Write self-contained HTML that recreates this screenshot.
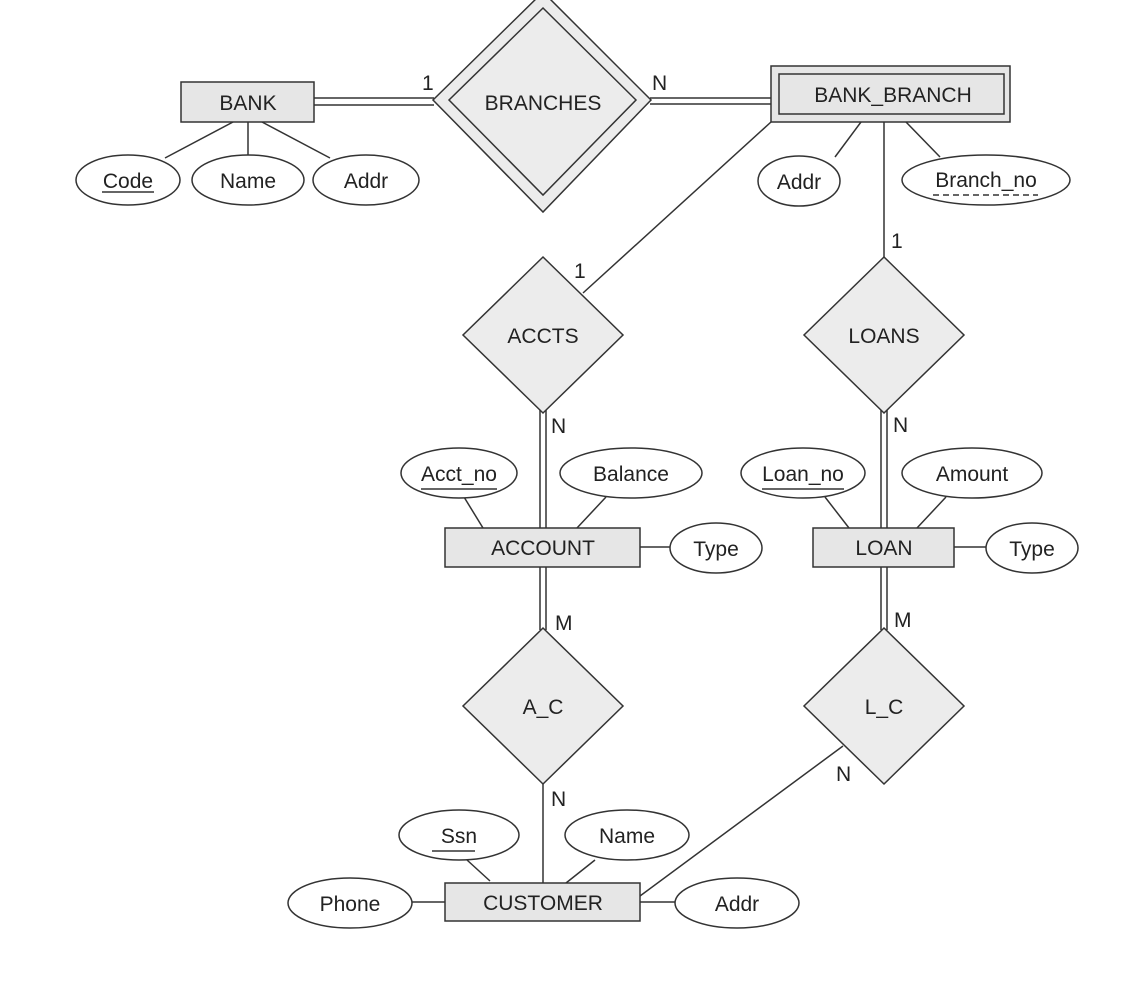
<!DOCTYPE html>
<html><head><meta charset="utf-8"><style>
html,body{margin:0;padding:0;background:#fff;}
svg{display:block;}
text{font-family:"Liberation Sans",Arial,sans-serif;font-size:21px;fill:#222;}
</style></head><body>
<svg width="1124" height="984" viewBox="0 0 1124 984" xmlns="http://www.w3.org/2000/svg">
<g stroke="#333" stroke-width="1.5" fill="none">
<!-- BANK attr lines -->
<line x1="233" y1="122" x2="165" y2="158"/>
<line x1="248" y1="122" x2="248" y2="155"/>
<line x1="262" y1="122" x2="330" y2="158"/>
<!-- BANK - BRANCHES double -->
<line x1="314" y1="98" x2="434" y2="98"/>
<line x1="314" y1="105" x2="434" y2="105"/>
<!-- BRANCHES - BANK_BRANCH double -->
<line x1="650" y1="98" x2="771" y2="98"/>
<line x1="650" y1="104" x2="771" y2="104"/>
<!-- BB attr lines -->
<line x1="861" y1="122" x2="835" y2="157"/>
<line x1="906" y1="122" x2="940" y2="157"/>
<line x1="884" y1="122" x2="884" y2="257"/>
<line x1="771" y1="122" x2="583" y2="293"/>
<!-- ACCTS - ACCOUNT -->
<line x1="540" y1="410" x2="540" y2="528"/>
<line x1="546" y1="410" x2="546" y2="528"/>
<line x1="881" y1="410" x2="881" y2="528"/>
<line x1="887" y1="410" x2="887" y2="528"/>
<line x1="540" y1="567" x2="540" y2="630"/>
<line x1="546" y1="567" x2="546" y2="630"/>
<line x1="881" y1="567" x2="881" y2="630"/>
<line x1="887" y1="567" x2="887" y2="630"/>
<!-- account attrs -->
<line x1="483" y1="528" x2="464" y2="497"/>
<line x1="577" y1="528" x2="606" y2="497"/>
<line x1="640" y1="547" x2="671" y2="547"/>
<line x1="849" y1="528" x2="825" y2="497"/>
<line x1="917" y1="528" x2="946" y2="497"/>
<line x1="954" y1="547" x2="986" y2="547"/>
<!-- A_C - CUSTOMER -->
<line x1="543" y1="784" x2="543" y2="883"/>
<line x1="843" y1="746" x2="640" y2="896"/>
<line x1="490" y1="881" x2="467" y2="860"/>
<line x1="566" y1="883" x2="595" y2="860"/>
<line x1="412" y1="902" x2="445" y2="902"/>
<line x1="640" y1="902" x2="676" y2="902"/>
</g>
<g stroke="#333" stroke-width="1.5" fill="#e6e6e6">
<rect x="181" y="82" width="133" height="40"/>
<polygon points="543,-8 651,100 543,212 433,100" fill="#ececec"/>
<polygon points="543,8 636,100 543,195 449,100" fill="#ececec"/>
<rect x="771" y="66" width="239" height="56"/>
<rect x="779" y="74" width="225" height="40"/>
<polygon points="543,257 623,335 543,413 463,335" fill="#ececec"/>
<polygon points="884,257 964,335 884,413 804,335" fill="#ececec"/>
<rect x="445" y="528" width="195" height="39"/>
<rect x="813" y="528" width="141" height="39"/>
<polygon points="543,628 623,706 543,784 463,706" fill="#ececec"/>
<polygon points="884,628 964,706 884,784 804,706" fill="#ececec"/>
<rect x="445" y="883" width="195" height="38"/>
</g>
<g stroke="#333" stroke-width="1.5" fill="#fff">
<ellipse cx="128" cy="180" rx="52" ry="25"/>
<ellipse cx="248" cy="180" rx="56" ry="25"/>
<ellipse cx="366" cy="180" rx="53" ry="25"/>
<ellipse cx="799" cy="181" rx="41" ry="25"/>
<ellipse cx="986" cy="180" rx="84" ry="25"/>
<ellipse cx="459" cy="473" rx="58" ry="25"/>
<ellipse cx="631" cy="473" rx="71" ry="25"/>
<ellipse cx="716" cy="548" rx="46" ry="25"/>
<ellipse cx="803" cy="473" rx="62" ry="25"/>
<ellipse cx="972" cy="473" rx="70" ry="25"/>
<ellipse cx="1032" cy="548" rx="46" ry="25"/>
<ellipse cx="459" cy="835" rx="60" ry="25"/>
<ellipse cx="627" cy="835" rx="62" ry="25"/>
<ellipse cx="350" cy="903" rx="62" ry="25"/>
<ellipse cx="737" cy="903" rx="62" ry="25"/>
</g>
<g text-anchor="middle">
<text x="248" y="110">BANK</text>
<text x="543" y="110">BRANCHES</text>
<text x="893" y="102">BANK_BRANCH</text>
<text x="128" y="188">Code</text>
<text x="248" y="188">Name</text>
<text x="366" y="188">Addr</text>
<text x="799" y="189">Addr</text>
<text x="986" y="187">Branch_no</text>
<text x="543" y="343">ACCTS</text>
<text x="884" y="343">LOANS</text>
<text x="459" y="481">Acct_no</text>
<text x="631" y="481">Balance</text>
<text x="716" y="556">Type</text>
<text x="543" y="555">ACCOUNT</text>
<text x="803" y="481">Loan_no</text>
<text x="972" y="481">Amount</text>
<text x="884" y="555">LOAN</text>
<text x="1032" y="556">Type</text>
<text x="543" y="714">A_C</text>
<text x="884" y="714">L_C</text>
<text x="459" y="843">Ssn</text>
<text x="627" y="843">Name</text>
<text x="543" y="910">CUSTOMER</text>
<text x="350" y="911">Phone</text>
<text x="737" y="911">Addr</text>
</g>
<g stroke="#333" stroke-width="1.5">
<line x1="102" y1="192" x2="154" y2="192"/>
<line x1="421" y1="489" x2="497" y2="489"/>
<line x1="762" y1="489" x2="844" y2="489"/>
<line x1="432" y1="851" x2="475" y2="851"/>
<line x1="933" y1="195" x2="1038" y2="195" stroke-dasharray="6,4"/>
</g>
<g>
<text x="422" y="90">1</text>
<text x="652" y="90">N</text>
<text x="574" y="278">1</text>
<text x="891" y="248">1</text>
<text x="551" y="433">N</text>
<text x="893" y="432">N</text>
<text x="555" y="630">M</text>
<text x="894" y="627">M</text>
<text x="551" y="806">N</text>
<text x="836" y="781">N</text>
</g>
</svg>
</body></html>
